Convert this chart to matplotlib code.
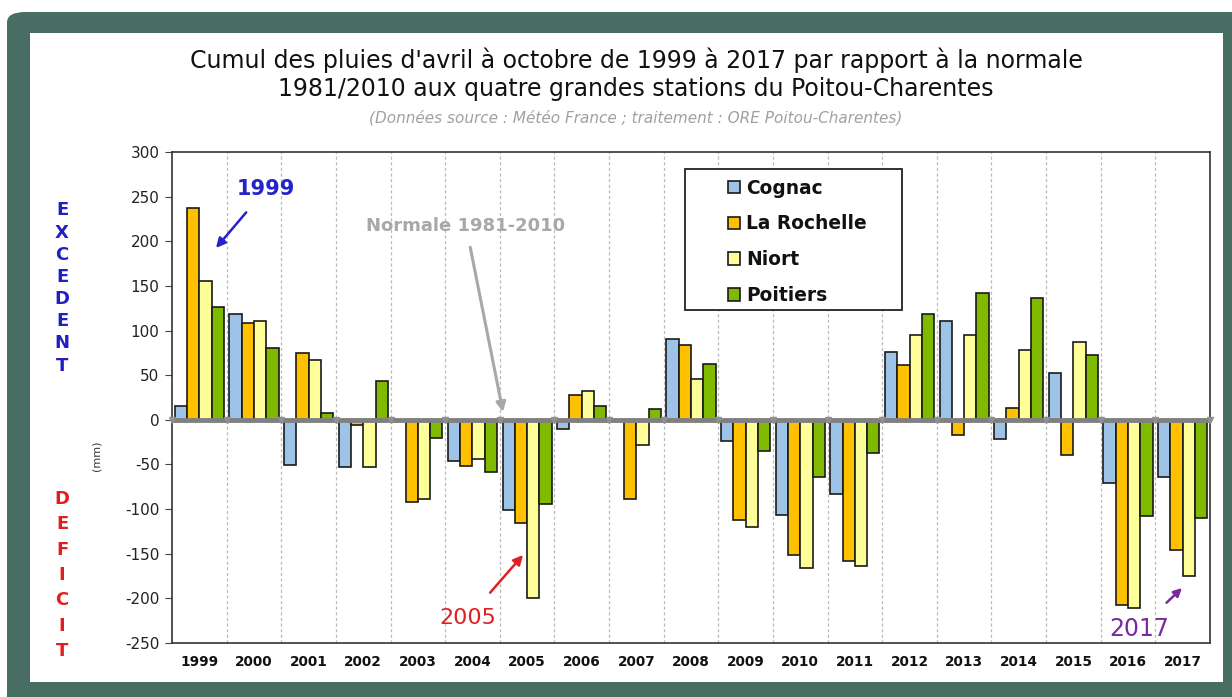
import matplotlib
matplotlib.use("Agg")
import matplotlib.pyplot as plt
from matplotlib.patches import FancyBboxPatch, Rectangle
import numpy as np

years = [str(y) for y in range(1999, 2018)]
stations = ["Cognac", "La Rochelle", "Niort", "Poitiers"]
cognac =      [16, 119, -51, -53, 0, -46, -101, -10, 0, 90, -24, -107, -83, 76, 111, -22, 53, -71, -64]
la_rochelle = [237, 109, 75, -6, -92, -52, -116, 28, -89, 84, -112, -151, -158, 61, -17, 13, -39, -207, -146]
niort =       [155, 111, 67, -53, -89, -44, -200, 32, -28, 46, -120, -166, -164, 95, 95, 78, 87, -211, -175]
poitiers =    [126, 80, 8, 44, -20, -59, -94, 15, 12, 63, -35, -64, -37, 118, 142, 136, 73, -108, -110]
series = [cognac, la_rochelle, niort, poitiers]
colors = ["#9DC3E6", "#FFC000", "#FFFF99", "#7FBA00"]
yticks = [-250, -200, -150, -100, -50, 0, 50, 100, 150, 200, 250, 300]

W, H = 1232, 697
fig = plt.figure(figsize=(W / 100, H / 100), dpi=100)
fig.patch.set_facecolor("white")

# frame
fig.patches.append(FancyBboxPatch((7 / W, -0.05), 1.2, 1.05 - 12 / H,
                                  boxstyle="round,pad=0,rounding_size=0.015",
                                  transform=fig.transFigure, facecolor="#486E64",
                                  edgecolor="none", zorder=-3))
fig.patches.append(Rectangle((30 / W, (H - 682) / H), (1223 - 30) / W, (682 - 33) / H,
                             transform=fig.transFigure, facecolor="white",
                             edgecolor="none", zorder=-2))

AX_L, AX_R, AX_T, AX_B = 172, 1210, 152, 643
ax = fig.add_axes([AX_L / W, (H - AX_B) / H, (AX_R - AX_L) / W, (AX_B - AX_T) / H])
ax.set_zorder(1)
ax.patch.set_facecolor("white")
x = np.arange(len(years))
bw = 0.225
for i, (vals, c, name) in enumerate(zip(series, colors, stations)):
    ax.bar(x + (i - 1.5) * bw, vals, width=bw, color=c, edgecolor="#1a1a1a",
           linewidth=1.2, label=name, zorder=3)

ax.set_xlim(-0.5, len(years) - 0.5)
ax.set_ylim(-250, 300)
ax.set_yticks(yticks)
ax.set_yticklabels([str(v) for v in yticks], fontsize=11, color="#222222")
ax.set_xticks(x)
ax.set_xticklabels(years, fontsize=9.8, fontweight="bold", color="#111111")
ax.tick_params(axis="x", length=0, pad=9)
ax.tick_params(axis="y", length=5, direction="out", pad=4, color="#444444")
for s in ax.spines.values():
    s.set_color("#333333")
    s.set_linewidth(1.2)

for b in np.arange(0.5, len(years) - 0.5, 1.0):
    ax.axvline(b, color="#BBBBBB", linestyle=(0, (2.5, 2)), linewidth=0.9, zorder=1)
ax.axhline(0, color="#808080", linewidth=3.5, zorder=4)
ax.plot(np.arange(-0.5, len(years), 1.0), [0] * (len(years) + 1), linestyle="none",
        marker="v", markersize=4, color="#909090", zorder=4, clip_on=False)

# legend box (drawn separately for the wide left padding)
def axfrac(px, py):
    return ((px - AX_L) / (AX_R - AX_L), 1 - (py - AX_T) / (AX_B - AX_T))

bx0, by0 = axfrac(685, 310)
bx1, by1 = axfrac(902, 169)
ax.add_patch(Rectangle((bx0, by0), bx1 - bx0, by1 - by0, transform=ax.transAxes,
                       facecolor="white", edgecolor="#222222", linewidth=1.3, zorder=6))
leg = ax.legend(loc="upper left", bbox_to_anchor=axfrac(724, 175),
                frameon=False, prop={"weight": "bold", "size": 13.4},
                handlelength=0.65, handleheight=0.65, handletextpad=0.35,
                labelspacing=0.9, borderpad=0.2, borderaxespad=0)
leg.set_zorder(7)
for t in leg.get_texts():
    t.set_color("#111111")

# title
fig.text(636 / W, 1 - 60 / H, "Cumul des pluies d'avril à octobre de 1999 à 2017 par rapport à la normale",
         ha="center", va="center", fontsize=17, color="#111111")
fig.text(636 / W, 1 - 89 / H, "1981/2010 aux quatre grandes stations du Poitou-Charentes",
         ha="center", va="center", fontsize=17, color="#111111")
fig.text(636 / W, 1 - 118 / H, "(Données source : Météo France ; traitement : ORE Poitou-Charentes)",
         ha="center", va="center", fontsize=11, style="italic", color="#A0A0A0")

# side labels
fig.text(62 / W, 1 - 288 / H, "\n".join("EXCEDENT"), ha="center", va="center",
         fontsize=13, fontweight="bold", color="#2020C0", linespacing=1.3)
fig.text(62 / W, 1 - 575 / H, "\n".join("DEFICIT"), ha="center", va="center",
         fontsize=13, fontweight="bold", color="#E02020", linespacing=1.52)
fig.text(97 / W, 1 - 456 / H, "(mm)", ha="center", va="center", rotation=90,
         fontsize=8, color="#333333")

# annotations (figure pixel coords)
def fpx(px, py):
    return (px / W, 1 - py / H)

ax.annotate("1999", xy=fpx(216, 248), xycoords="figure fraction", xytext=fpx(266, 189),
            textcoords="figure fraction", ha="center", va="center", fontsize=15,
            fontweight="bold", color="#2424C8", zorder=8,
            arrowprops=dict(arrowstyle="-|>", color="#2424C8", lw=1.8, mutation_scale=14,
                            shrinkA=10, shrinkB=0))
ax.annotate("Normale 1981-2010", xy=fpx(503, 412), xycoords="figure fraction", xytext=fpx(466, 226),
            textcoords="figure fraction", ha="center", va="center", fontsize=13,
            fontweight="bold", color="#A8A8A8", zorder=8,
            arrowprops=dict(arrowstyle="-|>", color="#A8A8A8", lw=2.2, mutation_scale=14,
                            shrinkA=7, shrinkB=0))
ax.annotate("2005", xy=fpx(523, 555), xycoords="figure fraction", xytext=fpx(468, 618),
            textcoords="figure fraction", ha="center", va="center", fontsize=16,
            color="#E02020", zorder=8,
            arrowprops=dict(arrowstyle="-|>", color="#E02020", lw=1.8, mutation_scale=14,
                            shrinkA=12, shrinkB=0))
ax.annotate("2017", xy=fpx(1182, 588), xycoords="figure fraction", xytext=fpx(1139, 629),
            textcoords="figure fraction", ha="center", va="center", fontsize=17,
            color="#7A2A9A", zorder=8,
            arrowprops=dict(arrowstyle="-|>", color="#7A2A9A", lw=1.8, mutation_scale=12,
                            shrinkA=12, shrinkB=0))

fig.savefig("out.png", dpi=100)
